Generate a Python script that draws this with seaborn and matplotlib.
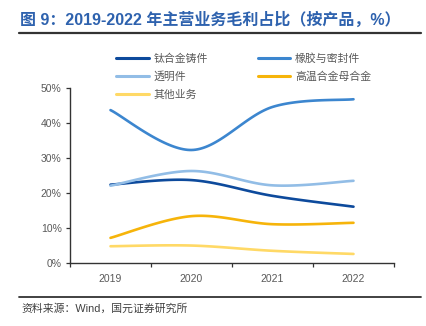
import numpy as np
import pandas as pd
import matplotlib
matplotlib.use("Agg")
import matplotlib.pyplot as plt
from matplotlib.lines import Line2D
import seaborn as sns

years = ["2019", "2020", "2021", "2022"]
titanium = [22.3, 23.6, 19.1, 16.0]      # 钛合金铸件
rubber = [43.6, 32.2, 44.5, 46.7]        # 橡胶与密封件
transparent = [22.0, 26.2, 22.1, 23.4]   # 透明件
superalloy = [7.1, 13.3, 11.0, 11.4]     # 高温合金母合金
others = [4.7, 4.9, 3.4, 2.5]            # 其他业务
yticks = [0, 10, 20, 30, 40, 50]

series = {
    "钛合金铸件": titanium,
    "橡胶与密封件": rubber,
    "透明件": transparent,
    "高温合金母合金": superalloy,
    "其他业务": others,
}
colors = {
    "钛合金铸件": "#0D4A9C",
    "橡胶与密封件": "#3C86CF",
    "透明件": "#92BDE6",
    "高温合金母合金": "#F6B40A",
    "其他业务": "#FFD966",
}

sns.set_theme(style="white")
plt.rcParams["font.family"] = ["Liberation Sans", "Noto Sans CJK SC", "DejaVu Sans"]


def smooth(xs, ys, n=40):
    # Bezier smoothing (Catmull-Rom style) for rendering smooth lines
    P = np.column_stack([xs, ys]).astype(float)
    ext = np.vstack([P[0], P, P[-1]])
    out = []
    for i in range(len(P) - 1):
        p0, p1, p2, p3 = ext[i], ext[i + 1], ext[i + 2], ext[i + 3]
        c1 = p1 + (p2 - p0) / 6.0
        c2 = p2 - (p3 - p1) / 6.0
        t = np.linspace(0, 1, n, endpoint=(i == len(P) - 2))[:, None]
        b = ((1 - t) ** 3) * p1 + 3 * ((1 - t) ** 2) * t * c1 + 3 * (1 - t) * t ** 2 * c2 + t ** 3 * p2
        out.append(b)
    return np.vstack(out)


rows = []
for name, vals in series.items():
    pts = smooth(np.arange(len(years)), np.array(vals) / 100.0)
    for k, (x, y) in enumerate(pts):
        rows.append({"x": x, "y": y, "series": name, "order": k})
df = pd.DataFrame(rows)

fig = plt.figure(figsize=(4.26, 3.26), dpi=100)
ax = fig.add_axes([70 / 426, 1 - 262.7 / 326, 324 / 426, 175 / 326])

sns.lineplot(data=df, x="x", y="y", hue="series", palette=colors, sort=False,
             estimator=None, units="series", linewidth=1.9, legend=False, ax=ax)

ax.set_xlim(-0.5, len(years) - 0.5)
ax.set_ylim(0, 0.5)
ax.set_xticks(range(len(years)))
ax.set_xticklabels(years)
ax.set_xticks(np.arange(-0.5, len(years), 1.0), minor=True)
ax.set_yticks([v / 100 for v in yticks])
ax.set_yticklabels([f"{v}%" for v in yticks])
ax.set_xlabel("")
ax.set_ylabel("")

for s in ["top", "right"]:
    ax.spines[s].set_visible(False)
for s in ["left", "bottom"]:
    ax.spines[s].set_color("#333333")
    ax.spines[s].set_linewidth(1.0)

ax.tick_params(axis="x", which="major", length=0, pad=8, labelsize=7.5, labelcolor="#595959")
ax.tick_params(axis="x", which="minor", length=3, width=0.9, color="#333333", direction="out", bottom=True)
ax.tick_params(axis="y", which="major", length=3, width=0.9, color="#333333", direction="out",
               left=True, pad=3, labelsize=7.5, labelcolor="#595959")
ax.grid(False)

order = ["钛合金铸件", "透明件", "其他业务", "橡胶与密封件", "高温合金母合金"]
handles = [Line2D([0], [0], color=colors[n], lw=2.2) for n in order]
leg = fig.legend(handles, order, loc="upper left", bbox_to_anchor=(116 / 426, 1 - 53 / 326),
                 ncol=2, frameon=False, handlelength=3.0, handletextpad=0.45,
                 columnspacing=4.6, labelspacing=0.72, borderpad=0, borderaxespad=0,
                 prop={"family": ["Noto Sans CJK SC"], "size": 7.8})
for t in leg.get_texts():
    t.set_color("#595959")

fig.text(20 / 426, 1 - 20 / 326, "图 9：2019-2022 年主营业务毛利占比（按产品，%）",
         fontsize=11.5, fontweight="bold", color="#2E62AE", va="center", ha="left")
fig.add_artist(Line2D([19 / 426, 421 / 426], [1 - 33 / 326, 1 - 33 / 326], color="#333333", lw=1.6))
fig.add_artist(Line2D([19 / 426, 421 / 426], [1 - 296.5 / 326, 1 - 296.5 / 326], color="#333333", lw=1.3))
fig.text(21 / 426, 1 - 309 / 326, "资料来源：Wind，国元证券研究所", fontsize=7.8, color="#404040",
         va="center", ha="left")

fig.savefig("out.png", dpi=100)
